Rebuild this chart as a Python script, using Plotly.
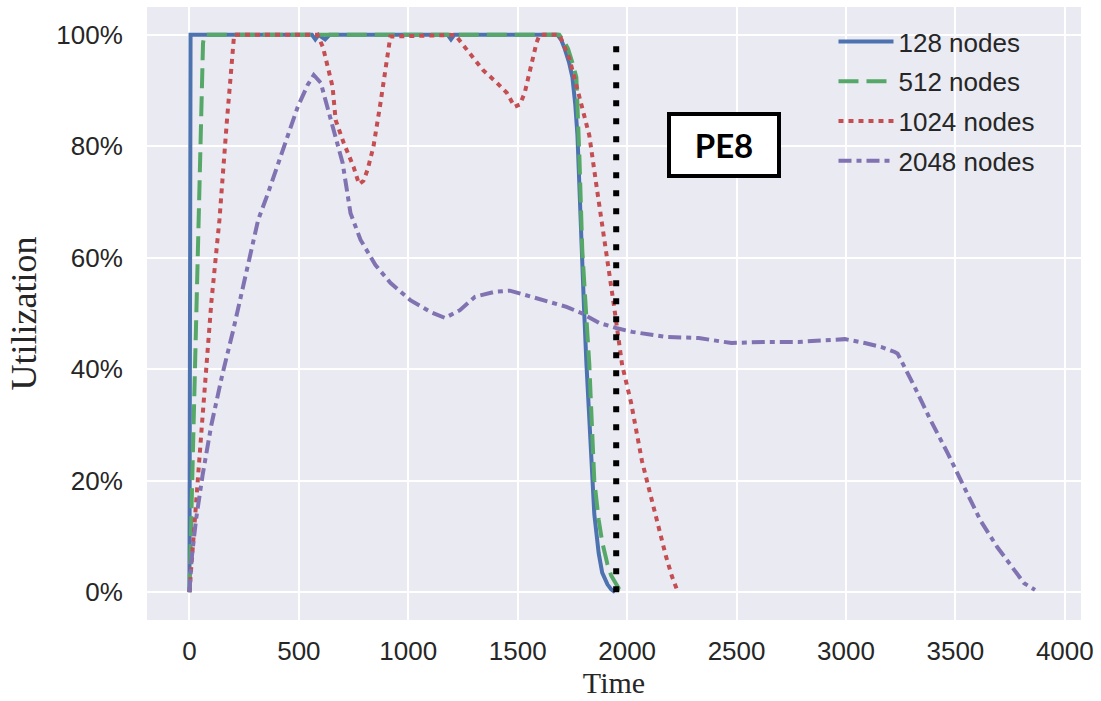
import plotly.graph_objects as go

# ---- data ----
t128 = [0, 5, 560, 575, 590, 620, 640, 1180, 1195, 1210, 1682, 1700, 1715, 1735, 1750, 1763, 1773, 1782, 1791, 1803, 1814, 1827, 1840, 1850, 1870, 1886, 1910, 1927, 1945]
u128 = [0.0, 1.0, 1.0, 0.992, 1.0, 0.992, 1.0, 1.0, 0.992, 1.0, 1.0, 0.99, 0.975, 0.95, 0.924, 0.875, 0.82, 0.72, 0.614, 0.51, 0.41, 0.30, 0.20, 0.14, 0.07, 0.035, 0.014, 0.005, 0.0]

t512 = [0, 20, 40, 62, 68, 1690, 1710, 1730, 1750, 1768, 1782, 1795, 1811, 1827, 1840, 1850, 1870, 1886, 1910, 1927, 1964, 1995]
u512 = [0.0, 0.32, 0.668, 0.985, 1.0, 1.0, 0.99, 0.975, 0.95, 0.924, 0.78, 0.614, 0.51, 0.41, 0.29, 0.20, 0.13, 0.09, 0.05, 0.03, 0.005, 0.0]

t1024 = [0, 25, 55, 100, 137, 170, 204, 585, 610, 654, 668, 705, 750, 775, 795, 814, 841, 873, 895, 918,
         1214, 1268, 1341, 1405, 1450, 1486, 1510, 1532, 1555, 1586, 1600, 1691, 1736, 1782, 1827, 1864,
         1905, 1941, 1977, 2018, 2068, 2132, 2177, 2205, 2232]
u1024 = [0.0, 0.14, 0.29, 0.52, 0.668, 0.84, 1.0, 1.0, 0.978, 0.907, 0.847, 0.806, 0.763, 0.732, 0.738, 0.758, 0.80, 0.878, 0.937, 0.997,
         1.0, 0.973, 0.937, 0.914, 0.896, 0.871, 0.875, 0.896, 0.937, 0.986, 1.0, 1.0, 0.958, 0.889, 0.82, 0.718,
         0.614, 0.511, 0.408, 0.34, 0.235, 0.133, 0.065, 0.028, 0.0]

t2048 = [0, 10, 30, 60, 100, 150, 200, 250, 314, 359, 432, 495, 540, 568, 600, 630, 659, 700, 736, 782, 850, 918,
         1009, 1100, 1168, 1236, 1305, 1395, 1464, 1568, 1645, 1723, 1795, 1873, 1950, 2023, 2177, 2327, 2477,
         2632, 2782, 2932, 2995, 3086, 3160, 3223, 3236, 3314, 3386, 3464, 3541, 3614, 3691, 3768, 3814, 3864]
u2048 = [0.0, 0.06, 0.13, 0.21, 0.30, 0.39, 0.47, 0.56, 0.668, 0.716, 0.80, 0.871, 0.91, 0.928, 0.914, 0.871, 0.824, 0.77, 0.68, 0.632, 0.587, 0.555,
         0.524, 0.503, 0.492, 0.506, 0.53, 0.539, 0.541, 0.53, 0.52, 0.512, 0.50, 0.483, 0.474, 0.467, 0.458, 0.456, 0.447,
         0.449, 0.449, 0.452, 0.454, 0.447, 0.44, 0.431, 0.428, 0.368, 0.309, 0.25, 0.189, 0.129, 0.081, 0.039, 0.016, 0.004]

deadline_t = [1950, 1950]
deadline_u = [0.0, 0.985]

names = ["128 nodes", "512 nodes", "1024 nodes", "2048 nodes"]
colors = ["#4C72B0", "#55A868", "#C44E52", "#8172B2"]
dashes = ["solid", "20px,8px", "5px,5px", "13px,5px,5px,5px"]
series = [(t128, u128), (t512, u512), (t1024, u1024), (t2048, u2048)]

xticks = [0, 500, 1000, 1500, 2000, 2500, 3000, 3500, 4000]
yticks = [0, 0.2, 0.4, 0.6, 0.8, 1.0]

fig = go.Figure()
for (tx, uy), nm, c, d in zip(series, names, colors, dashes):
    fig.add_trace(go.Scatter(x=tx, y=uy, mode="lines", name=nm, legendgroup=nm,
                             line=dict(color=c, width=4, dash=d)))

fig.add_trace(go.Scatter(x=deadline_t, y=deadline_u, mode="lines", showlegend=False,
                         line=dict(color="black", width=6, dash="6px,12px")))

sans = "Liberation Sans, Arial, sans-serif"
serif = "Liberation Serif, Times New Roman, serif"

fig.update_layout(
    width=1101, height=701,
    margin=dict(l=147, r=16, t=7, b=81),
    paper_bgcolor="white",
    plot_bgcolor="#EAEAF2",
    font=dict(family=sans, size=26, color="#262626"),
    legend=dict(x=0.735, y=0.982, xanchor="left", yanchor="top",
                bgcolor="rgba(0,0,0,0)", font=dict(size=26, color="#262626"),
                tracegroupgap=3, itemwidth=55),
    annotations=[dict(text="<b>PE8</b>", xref="paper", yref="paper", x=0.6175, y=0.775,
                      xanchor="center", yanchor="middle",
                      showarrow=False, font=dict(family="Lato, Open Sans, sans-serif", size=33, color="black"),
                      bgcolor="white", bordercolor="black", borderwidth=4, borderpad=0,
                      width=106, height=58, align="center", valign="middle")],
)

fig.update_xaxes(range=[-194, 4074], tickvals=xticks, ticktext=[str(v) for v in xticks],
                 showgrid=True, gridcolor="white", gridwidth=2, zeroline=False,
                 ticks="outside", ticklen=8, tickcolor="rgba(0,0,0,0)",
                 showline=False,
                 title=dict(text="Time", font=dict(family=serif, size=30, color="#262626"), standoff=6))
fig.update_yaxes(range=[-0.05, 1.05], tickvals=yticks, tickformat=".0%",
                 showgrid=True, gridcolor="white", gridwidth=2, zeroline=False,
                 ticks="outside", ticklen=18, tickcolor="rgba(0,0,0,0)",
                 showline=False,
                 title=dict(text="Utilization", font=dict(family=serif, size=36, color="#262626"), standoff=8))

fig.write_html("out.html")
